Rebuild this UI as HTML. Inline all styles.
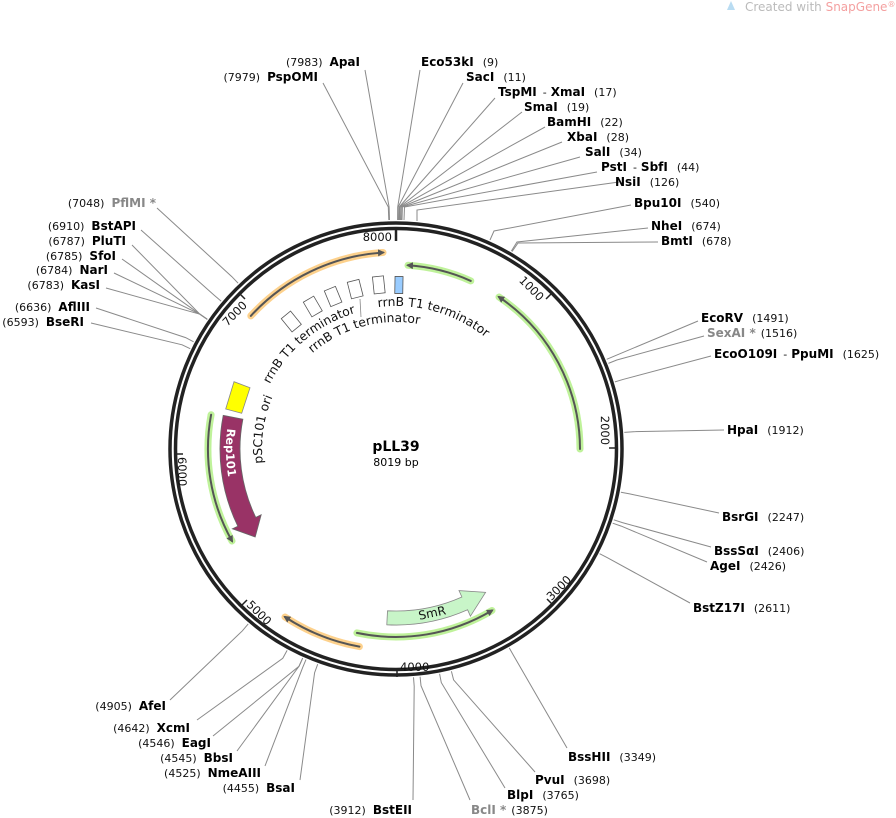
<!DOCTYPE html>
<html><head><meta charset="utf-8"><style>
html,body{margin:0;padding:0;background:#fff;}
svg{display:block;font-family:"DejaVu Sans","Liberation Sans",sans-serif;}
.n{font-size:11px;fill:#111;}
.b{font-size:12px;font-weight:bold;fill:#000;}
.g{fill:#888;}
.ln{stroke:#8a8a8a;stroke-width:1;fill:none;}
.tk{font-size:11.5px;fill:#111;}
</style></head><body>
<svg width="896" height="818" viewBox="0 0 896 818" xmlns="http://www.w3.org/2000/svg">
<defs>
<marker id="ah" markerWidth="8" markerHeight="8" refX="5" refY="4" orient="auto" markerUnits="userSpaceOnUse"><path d="M0,0.5 L7,4 L0,7.5 Z" fill="#555"/></marker>
</defs>
<path d="M727,10 L731,1 L735,10 Z" fill="#b9dcf2"/>
<text x="745" y="11" font-size="12" fill="#bbb">Created with <tspan fill="#f4a0a0">SnapGene</tspan><tspan font-size="8" dy="-4" fill="#f4a0a0">®</tspan></text>

<g class="ln">
<polyline points="389.5,220 389.1,207 365,70"/>
<polyline points="388.8,220 388.3,207 323,83"/>
<polyline points="397.6,220 397.7,207 420,70"/>
<polyline points="398,220 398.1,207 463,83"/>
<polyline points="399,220 399.2,207 495,98"/>
<polyline points="399.4,220 399.6,207 522,112"/>
<polyline points="400,220 400.2,207 545,127"/>
<polyline points="401,220 401.3,207 562,142"/>
<polyline points="402,220 402.4,207 580,157"/>
<polyline points="404,220 404.5,207 597,172"/>
<polyline points="417,221 417,210 619,182"/>
<polyline points="490,240 494,231 631,205"/>
<polyline points="511.4,251 517,242 648,228"/>
<polyline points="512,251.6 518,243 658,242"/>
<polyline points="606.7,359.3 615,355.8 698,321"/>
<polyline points="608.4,363.4 616.8,360 704,336"/>
<polyline points="614.9,381.9 623.5,379.3 711,356"/>
<polyline points="624.3,432.4 633.3,431.7 724,430"/>
<polyline points="620.9,492.2 629.7,493.9 719,513"/>
<polyline points="613.8,519.8 622.4,522.6 711,547"/>
<polyline points="612.7,523.2 621.2,526.1 707,562"/>
<polyline points="599.6,553.7 607.6,557.8 690,603"/>
<polyline points="509.3,648 513.7,655.8 567,748"/>
<polyline points="451.4,671.2 453.6,679.9 535,772"/>
<polyline points="439.6,673.8 441.3,682.6 505,788"/>
<polyline points="420.1,676.7 421,685.7 470,800"/>
<polyline points="413.5,677.3 414.2,686.3 413,800"/>
<polyline points="317.7,664.2 314.6,672.7 300,780"/>
<polyline points="306,659.6 302.5,667.9 265,766"/>
<polyline points="302.7,658.1 299,666.3 237,751"/>
<polyline points="302.7,658.1 299,666.3 213,736"/>
<polyline points="287.1,650.4 282.8,658.3 197,720"/>
<polyline points="248.2,623.9 242.4,630.8 170,700"/>
<polyline points="190.2,348.7 182.1,344.8 91,323"/>
<polyline points="193.6,341.8 185.6,337.6 96,308"/>
<polyline points="207.3,319.3 199.9,314.2 106,288"/>
<polyline points="207.3,319.3 199.9,314.2 114,273"/>
<polyline points="207.3,319.3 199.9,314.2 122,259"/>
<polyline points="207.3,319.3 199.9,314.2 132,245"/>
<polyline points="221.1,301.1 214.2,295.2 141,230"/>
<polyline points="238.1,283.2 231.9,276.7 157,208"/>
</g>

<circle cx="396" cy="449" r="226" fill="#fff" stroke="#222" stroke-width="3.5"/>
<circle cx="396" cy="449" r="220.5" fill="none" stroke="#222" stroke-width="3.5"/>

<g stroke="#222" stroke-width="2.5">
<line x1="396" y1="227" x2="396" y2="241"/>
</g>
<g stroke="#222" stroke-width="1.5">
<line x1="552" y1="293" x2="546" y2="299"/>
<line x1="617" y1="448" x2="609" y2="448"/>
<line x1="553" y1="605" x2="547" y2="599"/>
<line x1="397" y1="669" x2="397" y2="677"/>
<line x1="241" y1="606" x2="247" y2="600"/>
<line x1="175" y1="454" x2="183" y2="454"/>
<line x1="239" y1="293" x2="245" y2="299"/>
</g>
<g class="tk">
<text x="392" y="241" text-anchor="end">8000</text>
<text transform="translate(549,296) rotate(45)" x="-3" y="11" text-anchor="end">1000</text>
<text transform="translate(612,448) rotate(89.8)" x="-3" y="11" text-anchor="end">2000</text>
<text transform="translate(550,604) rotate(-45.3)" x="3" y="-1" text-anchor="start">3000</text>
<text x="400" y="671" text-anchor="start">4000</text>
<text transform="translate(243,604) rotate(44.5)" x="3" y="-1" text-anchor="start">5000</text>
<text transform="translate(177,454) rotate(89.4)" x="3" y="-1" text-anchor="start">6000</text>
<text transform="translate(242,296) rotate(-45.7)" x="-3" y="11" text-anchor="end">7000</text>
</g>

<g fill="none" stroke-linecap="round">
<path d="M250.8,315.9 A197,197 0 0 1 383,252.5" stroke="#fdd18c" stroke-width="7"/>
<path d="M250.8,315.9 A197,197 0 0 1 383,252.5" stroke="#555" stroke-width="2" marker-end="url(#ah)"/>
<path d="M470.8,280.9 A184,184 0 0 0 408,265.3" stroke="#bff29a" stroke-width="7"/>
<path d="M470.8,280.9 A184,184 0 0 0 408,265.3" stroke="#555" stroke-width="2" marker-end="url(#ah)"/>
<path d="M580,449 A184,184 0 0 0 499,297" stroke="#bff29a" stroke-width="7"/>
<path d="M580,449 A184,184 0 0 0 499,297" stroke="#555" stroke-width="2" marker-end="url(#ah)"/>
<path d="M211.1,414.7 A188,188 0 0 0 232,541" stroke="#bff29a" stroke-width="7"/>
<path d="M211.1,414.7 A188,188 0 0 0 232,541" stroke="#555" stroke-width="2" marker-end="url(#ah)"/>
<path d="M359.4,646.6 A201,201 0 0 1 285,617" stroke="#fdd18c" stroke-width="7"/>
<path d="M359.4,646.6 A201,201 0 0 1 285,617" stroke="#555" stroke-width="2" marker-end="url(#ah)"/>
<path d="M356.9,632.9 A188,188 0 0 0 492,610.5" stroke="#bff29a" stroke-width="7"/>
<path d="M356.9,632.9 A188,188 0 0 0 492,610.5" stroke="#555" stroke-width="2" marker-end="url(#ah)"/>
</g>

<path d="M386.8,624.8 A176,176 0 0 0 467.6,609.8 L470.4,616.2 L485.6,592.3 L459,590.6 L461.9,597 A162,162 0 0 1 387.5,610.8 Z" fill="#c8f5c8" stroke="#888" stroke-width="0.8"/>
<text transform="translate(433,617) rotate(-12)" text-anchor="middle" font-size="12" fill="#111">SmR</text>

<path d="M223.2,415.4 A176,176 0 0 0 237.8,526.2 L232.4,528.8 L255.2,537 L261.2,514.8 L255.8,517.4 A156,156 0 0 1 242.9,419.2 Z" fill="#993366" stroke="#666" stroke-width="0.8"/>
<path id="rp" d="M228.1,422.4 A170,170 0 0 0 248.8,534" fill="none"/>
<text font-size="11.5" font-weight="bold" fill="#fff"><textPath href="#rp" startOffset="6">Rep101</textPath></text>

<polygon points="225.7,409 234,381.7 250,387.7 241.7,413.3" fill="#ffff00" stroke="#888" stroke-width="0.8"/>

<g fill="#fff" stroke="#555" stroke-width="0.8">
<rect x="-6" y="-8.5" width="12" height="17" transform="translate(291.3,321.5) rotate(-39.4)"/>
<rect x="-6" y="-8.5" width="12" height="17" transform="translate(312.8,306.5) rotate(-30.3)"/>
<rect x="-6" y="-8.5" width="12" height="17" transform="translate(333.1,296.5) rotate(-22.4)"/>
<rect x="-6" y="-8.5" width="12" height="17" transform="translate(355.2,289.1) rotate(-14.3)"/>
<rect x="-5.5" y="-8.5" width="11" height="17" transform="translate(378.8,284.9) rotate(-6)"/>
<rect x="-4" y="-8.5" width="8" height="17" transform="translate(398.9,285) rotate(1)" fill="#99ccff"/>
</g>
<line x1="360" y1="299" x2="361" y2="317" stroke="#888" stroke-width="0.8"/>

<path id="t1" d="M376.1,307.4 A143,143 0 0 1 497.1,347.9" fill="none"/>
<path id="t2" d="M311,354.6 A127,127 0 0 1 439.4,329.7" fill="none"/>
<path id="t3" d="M268.4,386.8 A142,142 0 0 1 371.3,309.2" fill="none"/>
<path id="t4" d="M263,465.3 A134,134 0 0 1 280,382" fill="none"/>
<g font-size="12.3" fill="#111">
<text><textPath href="#t1" startOffset="2">rrnB T1 terminator</textPath></text>
<text><textPath href="#t2" startOffset="2">rrnB T1 terminator</textPath></text>
<text><textPath href="#t3" startOffset="3">rrnB T1 terminator</textPath></text>
<text><textPath href="#t4" startOffset="2">pSC101 ori</textPath></text>
</g>

<text x="396" y="451" text-anchor="middle" font-size="14" font-weight="bold">pLL39</text>
<text x="396" y="466" text-anchor="middle" font-size="11">8019 bp</text>

<g>
<text x="421" y="66"><tspan class="b">Eco53kI</tspan><tspan class="n" dx="9">(9)</tspan></text>
<text x="466" y="81"><tspan class="b">SacI</tspan><tspan class="n" dx="9">(11)</tspan></text>
<text x="498" y="96"><tspan class="b">TspMI</tspan><tspan class="n" dx="6">-</tspan><tspan class="b" dx="4">XmaI</tspan><tspan class="n" dx="9">(17)</tspan></text>
<text x="524" y="111"><tspan class="b">SmaI</tspan><tspan class="n" dx="9">(19)</tspan></text>
<text x="547" y="126"><tspan class="b">BamHI</tspan><tspan class="n" dx="9">(22)</tspan></text>
<text x="567" y="141"><tspan class="b">XbaI</tspan><tspan class="n" dx="9">(28)</tspan></text>
<text x="585" y="156"><tspan class="b">SalI</tspan><tspan class="n" dx="9">(34)</tspan></text>
<text x="601" y="171"><tspan class="b">PstI</tspan><tspan class="n" dx="6">-</tspan><tspan class="b" dx="4">SbfI</tspan><tspan class="n" dx="9">(44)</tspan></text>
<text x="615" y="186"><tspan class="b">NsiI</tspan><tspan class="n" dx="9">(126)</tspan></text>
<text x="634" y="207"><tspan class="b">Bpu10I</tspan><tspan class="n" dx="9">(540)</tspan></text>
<text x="651" y="230"><tspan class="b">NheI</tspan><tspan class="n" dx="9">(674)</tspan></text>
<text x="661" y="245"><tspan class="b">BmtI</tspan><tspan class="n" dx="9">(678)</tspan></text>
<text x="701" y="322"><tspan class="b">EcoRV</tspan><tspan class="n" dx="9">(1491)</tspan></text>
<text x="707" y="337"><tspan class="b g">SexAI *</tspan><tspan class="n" dx="5">(1516)</tspan></text>
<text x="714" y="358"><tspan class="b">EcoO109I</tspan><tspan class="n" dx="6">-</tspan><tspan class="b" dx="4">PpuMI</tspan><tspan class="n" dx="9">(1625)</tspan></text>
<text x="727" y="434"><tspan class="b">HpaI</tspan><tspan class="n" dx="9">(1912)</tspan></text>
<text x="722" y="521"><tspan class="b">BsrGI</tspan><tspan class="n" dx="9">(2247)</tspan></text>
<text x="714" y="555"><tspan class="b">BssSαI</tspan><tspan class="n" dx="9">(2406)</tspan></text>
<text x="710" y="570"><tspan class="b">AgeI</tspan><tspan class="n" dx="9">(2426)</tspan></text>
<text x="693" y="612"><tspan class="b">BstZ17I</tspan><tspan class="n" dx="9">(2611)</tspan></text>
<text x="568" y="761"><tspan class="b">BssHII</tspan><tspan class="n" dx="9">(3349)</tspan></text>
<text x="535" y="784"><tspan class="b">PvuI</tspan><tspan class="n" dx="9">(3698)</tspan></text>
<text x="507" y="799"><tspan class="b">BlpI</tspan><tspan class="n" dx="9">(3765)</tspan></text>
<text x="471" y="814"><tspan class="b g">BclI *</tspan><tspan class="n" dx="5">(3875)</tspan></text>
</g>
<g text-anchor="end">
<text x="360" y="66"><tspan class="n">(7983)</tspan><tspan class="b" dx="7">ApaI</tspan></text>
<text x="318" y="81"><tspan class="n">(7979)</tspan><tspan class="b" dx="7">PspOMI</tspan></text>
<text x="156" y="207"><tspan class="n">(7048)</tspan><tspan class="b g" dx="7">PflMI *</tspan></text>
<text x="136" y="230"><tspan class="n">(6910)</tspan><tspan class="b" dx="7">BstAPI</tspan></text>
<text x="126" y="245"><tspan class="n">(6787)</tspan><tspan class="b" dx="7">PluTI</tspan></text>
<text x="116" y="260"><tspan class="n">(6785)</tspan><tspan class="b" dx="7">SfoI</tspan></text>
<text x="108" y="274"><tspan class="n">(6784)</tspan><tspan class="b" dx="7">NarI</tspan></text>
<text x="100" y="289"><tspan class="n">(6783)</tspan><tspan class="b" dx="7">KasI</tspan></text>
<text x="90" y="311"><tspan class="n">(6636)</tspan><tspan class="b" dx="7">AflIII</tspan></text>
<text x="84" y="326"><tspan class="n">(6593)</tspan><tspan class="b" dx="7">BseRI</tspan></text>
<text x="166" y="710"><tspan class="n">(4905)</tspan><tspan class="b" dx="7">AfeI</tspan></text>
<text x="190" y="732"><tspan class="n">(4642)</tspan><tspan class="b" dx="7">XcmI</tspan></text>
<text x="211" y="747"><tspan class="n">(4546)</tspan><tspan class="b" dx="7">EagI</tspan></text>
<text x="233" y="762"><tspan class="n">(4545)</tspan><tspan class="b" dx="7">BbsI</tspan></text>
<text x="261" y="777"><tspan class="n">(4525)</tspan><tspan class="b" dx="7">NmeAIII</tspan></text>
<text x="295" y="792"><tspan class="n">(4455)</tspan><tspan class="b" dx="7">BsaI</tspan></text>
<text x="412" y="814"><tspan class="n">(3912)</tspan><tspan class="b" dx="7">BstEII</tspan></text>
</g>
</svg>
</body></html>
